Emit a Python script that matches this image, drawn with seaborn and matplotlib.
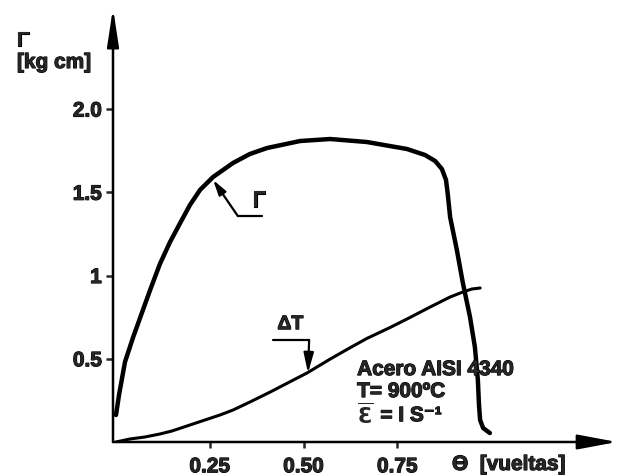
import matplotlib
matplotlib.use("Agg")
import matplotlib.pyplot as plt
import matplotlib.patheffects as pe
import seaborn as sns
import pandas as pd

# ---- data ----
gamma_x = [0.0, 0.008, 0.024, 0.045, 0.067, 0.091, 0.117, 0.144, 0.171, 0.197,
           0.224, 0.259, 0.312, 0.357, 0.403, 0.491, 0.571, 0.669, 0.776, 0.824,
           0.851, 0.869, 0.880, 0.885, 0.891, 0.909, 0.925, 0.944, 0.957, 0.965,
           0.968, 0.971, 0.979, 0.997]
gamma_y = [0.162, 0.282, 0.481, 0.625, 0.763, 0.913, 1.069, 1.201, 1.315, 1.423,
           1.514, 1.592, 1.676, 1.730, 1.766, 1.808, 1.820, 1.802, 1.760, 1.724,
           1.688, 1.640, 1.574, 1.483, 1.351, 1.153, 0.955, 0.751, 0.571, 0.372,
           0.222, 0.132, 0.084, 0.054]
dt_x = [0.0, 0.037, 0.077, 0.117, 0.149, 0.197, 0.237, 0.277, 0.312, 0.357,
        0.411, 0.483, 0.509, 0.571, 0.624, 0.669, 0.731, 0.784, 0.837, 0.891,
        0.925, 0.949, 0.971]
dt_y = [0.0, 0.018, 0.030, 0.048, 0.066, 0.102, 0.132, 0.162, 0.192, 0.240,
        0.300, 0.384, 0.414, 0.498, 0.566, 0.622, 0.688, 0.748, 0.810, 0.871,
        0.901, 0.919, 0.925]
x_ticks = [0.25, 0.50, 0.75]
x_ticklabels = ["0.25", "0.50", "0.75"]
y_ticks = [0.5, 1.0, 1.5, 2.0]
y_ticklabels = ["0.5", "1", "1.5", "2.0"]

sns.set_style("white")
plt.rcParams["font.family"] = ["Liberation Sans", "DejaVu Sans"]
plt.rcParams["font.weight"] = "bold"

heavy = [pe.withStroke(linewidth=0.8, foreground="black")]

fig = plt.figure(figsize=(6.18, 4.75), dpi=100)
ax = fig.add_axes([113 / 618, 33 / 475, 504 / 618, 434 / 475])

df_g = pd.DataFrame({"x": gamma_x, "y": gamma_y})
df_t = pd.DataFrame({"x": dt_x, "y": dt_y})
sns.lineplot(data=df_g, x="x", y="y", sort=False, color="black", lw=3.2, ax=ax,
             solid_capstyle="round", solid_joinstyle="round")
sns.lineplot(data=df_t, x="x", y="y", sort=False, color="black", lw=2.2, ax=ax,
             solid_capstyle="round", solid_joinstyle="round")

ax.set_xlim(-0.008, 1.336)
ax.set_ylim(0, 2.607)
for s in ax.spines.values():
    s.set_visible(False)
ax.set_xlabel("")
ax.set_ylabel("")

ax.set_xticks(x_ticks)
ax.set_xticklabels(x_ticklabels)
ax.set_yticks(y_ticks)
ax.set_yticklabels(y_ticklabels)
ax.tick_params(axis="x", direction="out", length=4, width=1.8, pad=7,
               labelsize=15, bottom=True)
ax.tick_params(axis="y", direction="out", length=5, width=1.8, pad=3,
               labelsize=15, left=True)
for lab in ax.get_xticklabels() + ax.get_yticklabels():
    lab.set_fontweight("bold")
    lab.set_path_effects(heavy)

# axis arrows
ax.annotate("", xy=(1, 0), xytext=(0, 0), xycoords="axes fraction",
            textcoords="axes fraction",
            arrowprops=dict(arrowstyle="-|>,head_length=2.4,head_width=0.45",
                            mutation_scale=10, lw=1.8, color="black",
                            shrinkA=0, shrinkB=0), annotation_clip=False)
ax.annotate("", xy=(0, 1), xytext=(0, 0), xycoords="axes fraction",
            textcoords="axes fraction",
            arrowprops=dict(arrowstyle="-|>,head_length=2.3,head_width=0.35",
                            mutation_scale=10, lw=1.8, color="black",
                            shrinkA=0, shrinkB=0), annotation_clip=False)

# Gamma label with leader
ax.plot([0.389, 0.325], [1.357, 1.357], color="black", lw=1.6)
ax.annotate("", xy=(0.259, 1.574), xytext=(0.325, 1.357),
            arrowprops=dict(arrowstyle="-|>,head_length=0.9,head_width=0.25",
                            mutation_scale=10, lw=1.6, color="black",
                            shrinkA=0, shrinkB=0))
ax.text(0.381, 1.447, "Γ", fontsize=16, fontweight="bold", ha="center",
        va="center", path_effects=heavy)

# Delta T label with leader
ax.plot([0.419, 0.515], [0.613, 0.613], color="black", lw=1.6)
ax.annotate("", xy=(0.512, 0.414), xytext=(0.515, 0.613),
            arrowprops=dict(arrowstyle="-|>,head_length=1.2,head_width=0.3",
                            mutation_scale=10, lw=1.6, color="black",
                            shrinkA=0, shrinkB=0))
ax.text(0.465, 0.705, "ΔT", fontsize=14, fontweight="bold", ha="center",
        va="center", path_effects=heavy)

# info block
ax.text(0.643, 0.402, "Acero AISI 4340", fontsize=15, fontweight="bold",
        ha="left", va="baseline", path_effects=heavy)
ax.text(0.643, 0.27, "T= 900ºC", fontsize=15, fontweight="bold",
        ha="left", va="baseline", path_effects=heavy)
ax.text(0.643, 0.112, r"$\overline{\mathrm{Ɛ}}$", fontsize=15,
        fontweight="normal", ha="left", va="baseline")
ax.text(0.705, 0.125, "= I S⁻¹", fontsize=15, fontweight="bold",
        ha="left", va="baseline", path_effects=heavy)

# axis titles
fig.text(17 / 618, 1 - 46 / 475, "Γ", fontsize=15, fontweight="bold",
         ha="left", va="baseline", path_effects=heavy)
fig.text(17 / 618, 1 - 68 / 475, "[kg cm]", fontsize=15, fontweight="bold",
         ha="left", va="baseline", path_effects=heavy)
fig.text(452 / 618, 1 - 470 / 475, "Θ  [vueltas]", fontsize=15, fontweight="bold",
         ha="left", va="baseline", path_effects=heavy)

fig.savefig("out.png", dpi=100)
